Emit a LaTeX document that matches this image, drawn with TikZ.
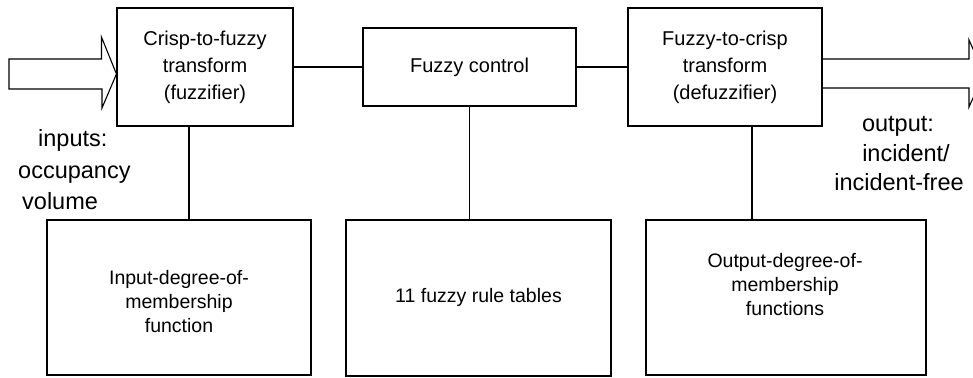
\documentclass[tikz,border=0pt]{standalone}
\usepackage{fontspec}
\setmainfont{Liberation Sans}
\begin{document}
\begin{tikzpicture}[x=1pt,y=-1pt,
  box/.style={draw,line width=1.1pt,rectangle,inner sep=0pt,align=center},
  toptxt/.style={font=\fontsize{20}{27}\selectfont},
  bottxt/.style={font=\fontsize{19.5}{24}\selectfont,align=center},
  sidetxt/.style={font=\fontsize{23.5}{31.5}\selectfont,inner sep=0pt},
  conn/.style={line width=1.1pt}]
\useasboundingbox (0,0) rectangle (973,377);
% top boxes
\node[box,toptxt,minimum width=176pt,minimum height=118pt] (b1) at (205,67) {Crisp-to-fuzzy\\transform\\(fuzzifier)};
\node[box,toptxt,minimum width=213pt,minimum height=78pt] (b2) at (469.5,67) {Fuzzy control};
\node[box,toptxt,minimum width=194pt,minimum height=118pt] (b3) at (725,67) {Fuzzy-to-crisp\\transform\\(defuzzifier)};
% bottom boxes
\node[box,minimum width=264pt,minimum height=155pt] (ba) at (179,297.5) {};
\node[box,minimum width=265pt,minimum height=156pt] (bb) at (478.5,298) {};
\node[box,minimum width=280pt,minimum height=155pt] (bc) at (786,297.5) {};
\node[bottxt] (ta) at (179,302) {Input-degree-of-\\membership\\function};
\node[bottxt] (tb) at (478.5,297) {11 fuzzy rule tables};
\node[bottxt] (tc) at (785,285) {Output-degree-of-\\membership\\functions};
% side labels
\node[sidetxt,anchor=base west] (in1) at (38,146) {inputs:};
\node[sidetxt,anchor=base west] (in2) at (18,178) {occupancy};
\node[sidetxt,anchor=base west] (in3) at (22,209) {volume};
\node[sidetxt,anchor=base] (out1) at (898,131) {output:};
\node[sidetxt,anchor=base] (out2) at (906,161) {incident/};
\node[sidetxt,anchor=base] (out3) at (899,190) {incident-free};
% connectors
\coordinate (x1) at (189,0);
\coordinate (x3) at (752,0);
\draw[conn] (b1.east) -- (b2.west);
\draw[conn] (b2.east) -- (b3.west);
\draw[conn] (b1.south -| x1) -- (ba.north -| x1);
\draw[conn] (b2.south) -- (bb.north -| b2.south);
\draw[conn] (b3.south -| x3) -- (bc.north -| x3);
% input hollow arrow
\coordinate (tip) at ([yshift=-7pt]b1.west);
\draw[conn,line join=miter] (tip) -- ++(-15,-37) -- ++(0,22) -- (9,59) -- (9,89) -- ++(93,0) -- ++(0,19) -- cycle;
% output hollow arrow (cut off at the border)
\begin{scope}
\clip (0,0) rectangle (973,377);
\coordinate (o1) at (b3.east |- 0,59);
\coordinate (o2) at (b3.east |- 0,88);
\draw[conn,line join=miter] (o1) -- (969,59) -- (969,40) -- (984,73.5) -- (969,107) -- (969,88) -- (o2);
\end{scope}
\end{tikzpicture}
\end{document}
